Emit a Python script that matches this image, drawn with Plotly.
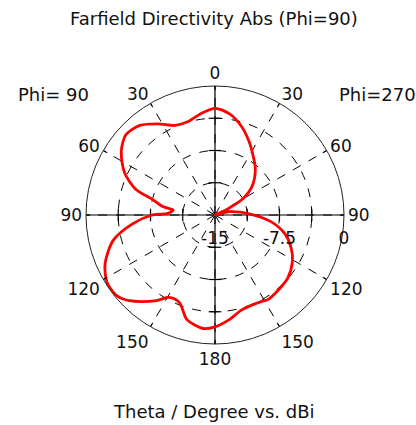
import plotly.graph_objects as go

# Plot angle (clockwise from top); right half = Phi=270 side, left half = Phi=90 side
angle_deg = [0, 8, 17, 25, 30, 41, 52, 60, 65, 70, 77, 88, 97, 105, 113, 121, 131, 139, 148,
             152, 164, 172, 180, 186, 195, 202, 209, 215, 225, 231, 238, 246, 256, 264, 270,
             272, 277, 279, 284, 288, 295, 304, 312, 320, 328, 336, 344, 352, 360]
directivity_dbi = [-2.6, -3.1, -4.3, -5.6, -6.4, -7.85, -9.5, -11.3, -13.6, -15.0, -13.3, -11.0,
                   -8.4, -6.6, -5.4, -4.5, -3.8, -3.6, -3.4, -3.6, -3.55, -2.75, -2.0, -1.73,
                   -2.4, -4.0, -4.06, -2.8, -0.9, -0.2, -0.2, -1.0, -2.8, -5.4, -7.7, -9.5,
                   -10.1, -8.9, -7.5, -5.3, -3.4, -1.85, -1.05, -1.4, -2.5, -3.6, -3.7, -3.1, -2.6]

angular_tickvals = [0, 30, 60, 90, 120, 150, 180, 210, 240, 270, 300, 330]
angular_ticktext = ["0", "30", "60", "90", "120", "150", "180", "150", "120", "90", "60", "30"]
radial_tickvals = [-15, -11.25, -7.5, -3.75, 0]
radial_ticktext = ["-15", "", "-7.5", "", "0"]
r_min, r_max = -15, 0

FONT = "DejaVu Sans"
TXT = "#111111"

W, H = 416, 425
CX, CY, R = 215, 215, 129

fig = go.Figure()

# solid cross-hair axes
fig.add_trace(go.Scatterpolar(r=[r_max, r_min, r_max], theta=[0, 0, 180], mode="lines",
                              line=dict(color="black", width=1.2), hoverinfo="skip", showlegend=False))
fig.add_trace(go.Scatterpolar(r=[r_max, r_min, r_max], theta=[90, 90, 270], mode="lines",
                              line=dict(color="black", width=1.2), hoverinfo="skip", showlegend=False))
# small tick marks on the cross-hair
inner = radial_tickvals[1:-1]
fig.add_trace(go.Scatterpolar(r=inner * 2, theta=[90] * 3 + [270] * 3, mode="markers",
                              marker=dict(symbol="line-ns-open", size=9, color="black", line=dict(width=1.2)),
                              hoverinfo="skip", showlegend=False))
fig.add_trace(go.Scatterpolar(r=inner * 2, theta=[0] * 3 + [180] * 3, mode="markers",
                              marker=dict(symbol="line-ew-open", size=9, color="black", line=dict(width=1.2)),
                              hoverinfo="skip", showlegend=False))

fig.add_trace(go.Scatterpolar(r=directivity_dbi, theta=angle_deg, mode="lines",
                              line=dict(color="#ff0000", width=2.8, shape="spline", smoothing=0.8),
                              showlegend=False))


def px(x):
    return x / W


def py(y):
    return 1 - y / H


fig.update_layout(
    width=W, height=H,
    margin=dict(l=0, r=0, t=0, b=0),
    paper_bgcolor="white",
    font=dict(family=FONT, size=17, color=TXT),
    polar=dict(
        domain=dict(x=[(CX - R) / W, (CX + R) / W], y=[1 - (CY + R) / H, 1 - (CY - R) / H]),
        bgcolor="white",
        angularaxis=dict(
            rotation=90, direction="clockwise",
            tickmode="array", tickvals=angular_tickvals, ticktext=angular_ticktext,
            showline=True, linecolor="#222222", linewidth=1,
            showgrid=True, gridcolor="black", griddash="dash", gridwidth=1,
            ticks="inside", ticklen=4, tickcolor="black",
            tickfont=dict(family=FONT, size=17, color=TXT),
        ),
        radialaxis=dict(
            range=[r_min, r_max], angle=0, side="clockwise",
            tickmode="array", tickvals=radial_tickvals, ticktext=radial_ticktext,
            showline=False, showgrid=True, gridcolor="black", griddash="dash", gridwidth=1,
            ticks="outside", ticklen=8, tickcolor="rgba(0,0,0,0)",
            tickfont=dict(family=FONT, size=17, color=TXT),
            tickangle=0,
        ),
    ),
    annotations=[
        dict(text="Farfield Directivity Abs (Phi=90)", x=px(214), y=py(18)),
        dict(text="Phi= 90", x=px(53), y=py(95)),
        dict(text="Phi=270", x=px(377), y=py(95)),
        dict(text="Theta / Degree vs. dBi", x=px(214), y=py(411)),
    ],
)
fig.update_annotations(xref="paper", yref="paper", showarrow=False, xanchor="center",
                       yanchor="middle", font=dict(family=FONT, size=18, color=TXT))

fig.write_html("out.html", config={"displayModeBar": False},
               post_script="document.body.style.margin='0';document.body.style.overflow='hidden';")
